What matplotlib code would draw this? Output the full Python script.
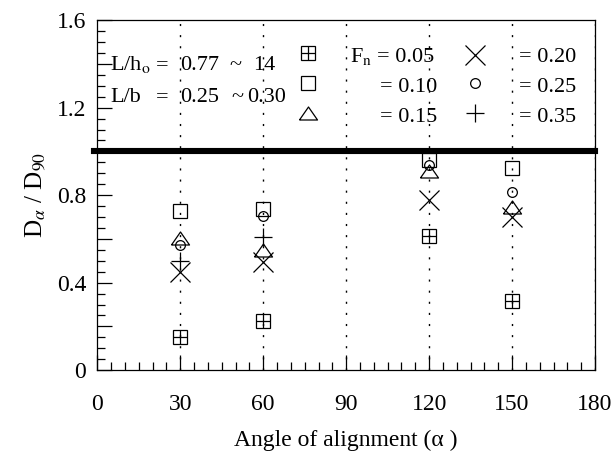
import matplotlib.pyplot as plt
from matplotlib.ticker import MultipleLocator, FixedLocator

plt.rcParams['font.family'] = ['Liberation Serif', 'DejaVu Serif']
plt.rcParams['mathtext.fontset'] = 'stix'

# data
angles = [30, 60, 120, 150]
fn005 = [0.152, 0.224, 0.614, 0.317]
fn010 = [0.728, 0.735, 0.960, 0.922]
fn015 = [0.602, 0.549, 0.910, 0.747]
fn020 = [0.449, 0.495, 0.777, 0.698]
fn025 = [0.571, 0.704, 0.937, 0.815]
angles035 = [30, 60]
fn035 = [0.500, 0.609]

fn_labels = ['= 0.05', '= 0.10', '= 0.15', '= 0.20', '= 0.25', '= 0.35']
x_ticks = [0, 30, 60, 90, 120, 150, 180]
grid_x = [30, 60, 90, 120, 150, 180]

fig = plt.figure(figsize=(6.16, 4.57), dpi=100)
ax = fig.add_axes([0.158, 0.190, 0.808, 0.766])

tri = [(-1, -0.72), (1, -0.72), (0, 0.72), (-1, -0.72)]
common = dict(color='black', mfc='none', mew=0.9, linestyle='none', clip_on=False)
styles = [
    [dict(marker='s', ms=10), dict(marker='+', ms=10)],
    [dict(marker='s', ms=10)],
    [dict(marker=tri, ms=13)],
    [dict(marker='x', ms=14)],
    [dict(marker='o', ms=7)],
    [dict(marker='+', ms=13)],
]

for xv in grid_x:
    ax.axvline(xv, color='black', lw=1.0, linestyle=(0, (1.5, 6.5)), zorder=1)

ax.axhline(1.0, xmin=-0.007, xmax=1.0, color='black', lw=4.4, clip_on=False, zorder=2)

series = [(angles, fn005), (angles, fn010), (angles, fn015),
          (angles, fn020), (angles, fn025), (angles035, fn035)]
for (xs, ys), st in zip(series, styles):
    for s in st:
        ax.plot(xs, ys, zorder=3, **common, **s)

ax.set_xlim(0, 180)
ax.set_ylim(0, 1.6)
ax.xaxis.set_major_locator(FixedLocator(x_ticks))
ax.xaxis.set_minor_locator(MultipleLocator(5))
ax.yaxis.set_major_locator(MultipleLocator(0.2))
ax.yaxis.set_minor_locator(MultipleLocator(0.05))
ax.set_yticklabels(['0' if abs(v) < 1e-9 else ('%.1f' % v if abs(v / 0.4 - round(v / 0.4)) < 1e-6 else '')
                    for v in ax.get_yticks()])
ax.set_xticklabels([str(v) for v in x_ticks])
ax.tick_params(which='both', direction='in', top=False, right=False, labelsize=17, width=0.9)
ax.tick_params(which='major', length=11)
ax.tick_params(which='minor', length=6)
ax.tick_params(axis='x', pad=17)
ax.tick_params(axis='y', pad=8)
for sp in ax.spines.values():
    sp.set_linewidth(0.9)

ax.set_xlabel('Angle of alignment (α )', fontsize=17, labelpad=11)
ax.set_ylabel(r'D$_\alpha$ / D$_{90}$', fontsize=18, labelpad=7)

# annotation block (positions in pixels of the 616x457 figure)
def put(px, py, s, ha='left', size=16):
    fig.text(px / 616, 1 - py / 457, s, ha=ha, va='baseline', fontsize=size)

put(110, 70, r'L/h$_{\rm o}$')
put(156, 70, '=')
put(180, 70, '0.77')
put(229, 70, '~')
put(253, 70, '14')
put(110, 102, 'L/b')
put(156, 102, '=')
put(180, 102, '0.25')
put(231, 102, '~')
put(247, 102, '0.30')

key_x = [308, 308, 308, 475, 475, 475]
key_y = [53, 83, 113, 55, 83, 113]
txt_x = [377, 380, 380, 519, 519, 519]
txt_y = [62, 92, 122, 62, 92, 122]
for kx, ky, tx, ty, lab, st in zip(key_x, key_y, txt_x, txt_y, fn_labels, styles):
    for s in st:
        ax.plot([(kx - 97.3) / 498], [(370 - ky) / 350], transform=ax.transAxes,
                **common, **s)
    put(tx, ty, lab)
put(372, 62, r'F$_{\rm n}$', ha='right')

fig.savefig('out.png', dpi=100)
